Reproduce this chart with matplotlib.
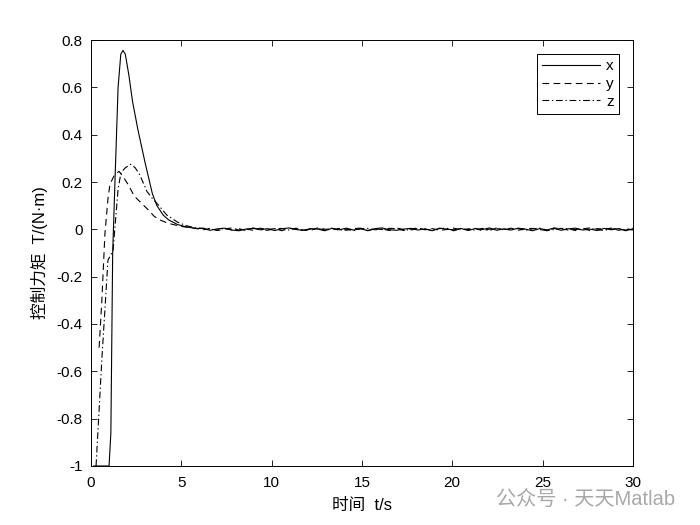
import numpy as np
import matplotlib
matplotlib.use("Agg")
import matplotlib.pyplot as plt

plt.rcParams['font.family'] = ['Liberation Sans', 'Noto Sans CJK SC', 'DejaVu Sans']

# ── transient part of each torque component ─────────────────────────
tx = [0.15, 1.0, 1.1, 1.2, 1.33, 1.5, 1.65, 1.77, 1.9, 2.1, 2.3, 2.6, 3.0, 3.4,
      3.65, 4.0, 4.3, 4.8, 5.3, 5.8]
vx = [-1.0, -1.0, -0.86, -0.1, 0.21, 0.6, 0.74, 0.756, 0.74, 0.65, 0.54, 0.42,
      0.28, 0.15, 0.10, 0.06, 0.04, 0.02, 0.01, 0.004]

ty = [0.45, 0.6, 0.77, 0.94, 1.05, 1.3, 1.55, 1.8, 2.05, 2.4, 2.8, 3.2, 3.5,
      3.8, 4.3, 5.0, 5.8]
vy = [-0.5, -0.3, -0.02, 0.13, 0.19, 0.23, 0.245, 0.22, 0.19, 0.14, 0.11, 0.08,
      0.055, 0.04, 0.025, 0.012, 0.004]

tz = [0.28, 0.6, 0.94, 1.22, 1.5, 1.66, 1.9, 2.2, 2.45, 2.7, 3.1, 3.4, 3.65,
      4.2, 4.8, 5.3, 5.8]
vz = [-1.0, -0.55, -0.13, -0.09, 0.17, 0.24, 0.26, 0.275, 0.26, 0.23, 0.16,
      0.13, 0.11, 0.06, 0.03, 0.015, 0.006]

# ── steady-state residual (t = 6 .. 30) ─────────────────────────────
tail_x = [0.003, -0.004, 0.002, 0.005, -0.003, -0.006, 0.001, 0.004, -0.002, 0.003,
          -0.005, 0.002, 0.006, -0.001, -0.004, 0.003, 0.001, -0.006, 0.004, -0.002,
          0.005, -0.003, 0.002, -0.005, 0.003, 0.006, -0.002, -0.004, 0.001, 0.004,
          -0.003, 0.002, -0.006, 0.005, 0.001, -0.002, 0.004, -0.005, 0.003, -0.001,
          0.006, -0.004, 0.002, -0.003, 0.005, 0.001, -0.006, 0.003, -0.002, 0.004,
          -0.004, 0.002, 0.005, -0.003, 0.001, -0.005, 0.004, -0.002, 0.003, -0.006, 0.002]
tail_y = [-0.002, 0.004, -0.005, 0.001, 0.006, -0.003, 0.002, -0.004, 0.005, -0.001,
          0.003, -0.006, 0.004, 0.002, -0.003, -0.005, 0.006, 0.001, -0.002, 0.004,
          -0.004, 0.003, 0.005, -0.006, 0.002, -0.001, 0.004, 0.003, -0.005, 0.001,
          0.006, -0.002, 0.003, -0.004, -0.001, 0.005, -0.003, 0.002, 0.004, -0.006,
          0.001, 0.003, -0.002, 0.005, -0.004, 0.002, 0.004, -0.001, -0.005, 0.006,
          0.002, -0.003, -0.001, 0.004, -0.005, 0.003, 0.001, 0.005, -0.004, 0.002, -0.003]
tail_z = [0.005, 0.001, -0.003, 0.004, -0.002, 0.003, -0.005, 0.006, -0.001, -0.004,
          0.002, 0.004, -0.003, 0.005, -0.006, 0.001, 0.003, -0.002, 0.005, -0.004,
          0.001, -0.006, 0.003, 0.004, -0.002, 0.002, -0.005, 0.006, -0.001, -0.003,
          0.004, 0.001, -0.004, 0.003, 0.005, -0.006, 0.002, -0.001, -0.003, 0.004,
          -0.005, 0.006, 0.001, -0.002, 0.003, -0.004, 0.002, 0.005, -0.006, -0.001,
          0.004, 0.003, -0.005, 0.002, 0.006, -0.002, -0.004, 0.001, 0.004, -0.003, 0.005]

yticks = [-1, -0.8, -0.6, -0.4, -0.2, 0, 0.2, 0.4, 0.6, 0.8]
xticks = [0, 5, 10, 15, 20, 25, 30]

t_tail = np.linspace(6.2, 30, len(tail_x))

x_t = np.concatenate([tx, t_tail]); x_v = np.concatenate([vx, tail_x])
y_t = np.concatenate([ty, t_tail]); y_v = np.concatenate([vy, tail_y])
z_t = np.concatenate([tz, t_tail]); z_v = np.concatenate([vz, tail_z])

fig = plt.figure(figsize=(7, 5.25), dpi=100)
ax = fig.add_axes([0.13, 0.1124, 0.774, 0.8114])

ax.plot(x_t, x_v, color='black', lw=0.8, ls='-', label='x')
ax.plot(y_t, y_v, color='black', lw=0.8, ls=(0, (6, 4)), label='y')
ax.plot(z_t, z_v, color='black', lw=0.8, ls=(0, (6, 2.5, 1.2, 2.5)), label='z')

ax.set_xlim(0, 30)
ax.set_ylim(-1, 0.8)
ax.set_xticks(xticks)
ax.set_yticks(yticks)
ax.set_yticklabels([f"{v:g}" for v in yticks])
ax.tick_params(direction='in', top=True, right=True, labelsize=11, length=4, width=0.6)
ax.tick_params(axis='x', pad=7)
ax.tick_params(axis='y', pad=6)
for s in ax.spines.values():
    s.set_linewidth(0.7)

ax.set_xlabel('时间  t/s', fontsize=12, labelpad=6)
ax.set_ylabel('控制力矩  T/(N·m)', fontsize=12, labelpad=6)

leg = ax.legend(loc='upper right', fontsize=11, handlelength=3.8,
                fancybox=False, edgecolor='black', framealpha=1,
                borderaxespad=0.9, handletextpad=0.4, labelspacing=0.25,
                borderpad=0.35)
leg.get_frame().set_linewidth(0.7)

fig.text(0.708, 0.038, '公众号 · 天天Matlab', fontsize=14.5, color='#a8a8a8')

fig.savefig('out.png', dpi=100)
